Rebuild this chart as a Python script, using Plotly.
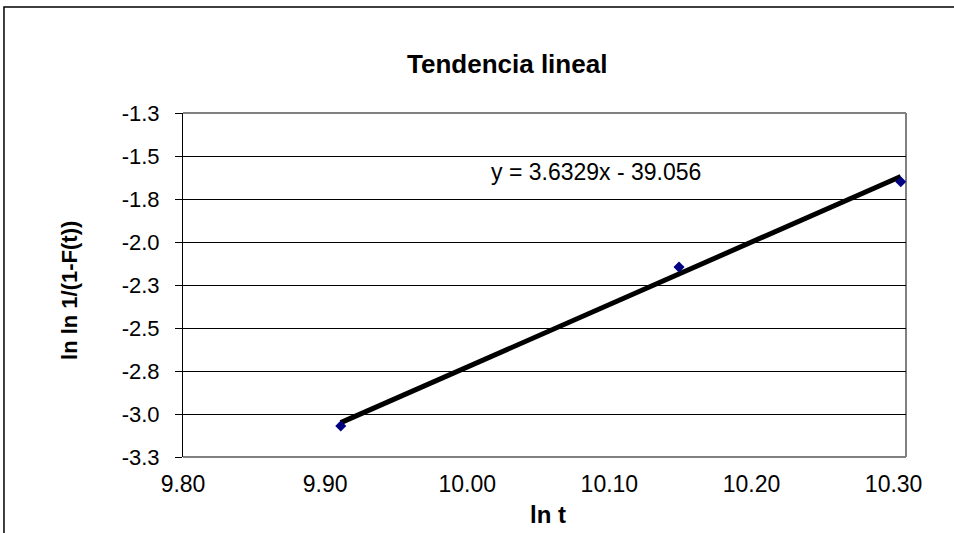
import plotly.graph_objects as go
from decimal import Decimal, ROUND_HALF_UP

# Weibull plot data: ln t against ln ln 1/(1-F(t))
ln_t = [9.911, 10.149, 10.305]
ln_ln_inv = [-3.070, -2.146, -1.650]

# Linear trend coefficients (shown in the label)
slope = 3.6329
intercept = -39.056

# Axis ticks
x_ticks = [9.80, 9.90, 10.00, 10.10, 10.20, 10.30]
x_ticklabels = ["9.80", "9.90", "10.00", "10.10", "10.20", "10.30"]
y_ticks = [-3.25, -3.00, -2.75, -2.50, -2.25, -2.00, -1.75, -1.50, -1.25]
y_ticklabels = [str(Decimal(str(v)).quantize(Decimal("0.1"), rounding=ROUND_HALF_UP)) for v in y_ticks]

FONT = "Liberation Sans, Arial, sans-serif"

x_fit = [min(ln_t), max(ln_t)]
y_fit = [slope * v + intercept for v in x_fit]

fig = go.Figure()
fig.add_trace(go.Scatter(
    x=x_fit, y=y_fit, mode="lines",
    line=dict(color="black", width=5),
    hoverinfo="skip", showlegend=False,
))
fig.add_trace(go.Scatter(
    x=ln_t, y=ln_ln_inv, mode="markers",
    marker=dict(symbol="diamond", size=8.5, color="#000080"),
    showlegend=False,
))

fig.update_layout(
    width=954, height=533,
    margin=dict(l=183, r=48, t=113, b=76),
    paper_bgcolor="white", plot_bgcolor="white",
    font=dict(family=FONT, color="black"),
    xaxis=dict(
        range=[9.80, 10.3087], tickvals=x_ticks, ticktext=x_ticklabels,
        showgrid=False, zeroline=False, ticks="", showline=False,
        tickfont=dict(size=23, family=FONT), ticklabelstandoff=11,
    ),
    yaxis=dict(
        range=[-3.25, -1.25], tickvals=y_ticks, ticktext=y_ticklabels,
        showgrid=True, gridcolor="black", gridwidth=1, zeroline=False,
        ticks="outside", ticklen=7, tickcolor="black", tickwidth=1,
        showline=True, linecolor="black", linewidth=1,
        tickfont=dict(size=22, family=FONT), ticklabelstandoff=11,
    ),
    shapes=[
        # plot frame (top, right, bottom)
        dict(type="line", xref="paper", yref="paper", x0=0, x1=1, y0=1, y1=1,
             line=dict(color="#808080", width=2), layer="below"),
        dict(type="line", xref="paper", yref="paper", x0=1, x1=1, y0=0, y1=1,
             line=dict(color="#808080", width=2), layer="below"),
        dict(type="line", xref="paper", yref="paper", x0=0, x1=1, y0=0, y1=0,
             line=dict(color="#808080", width=2), layer="below"),
        # chart area border
        dict(type="rect", xref="paper", yref="paper",
             x0=-0.2476, x1=1.3, y0=-0.6, y1=1.3081,
             line=dict(color="black", width=1.5), fillcolor="rgba(0,0,0,0)"),
    ],
    annotations=[
        dict(text="<b>Tendencia lineal</b>", xref="paper", yref="paper",
             x=0.448, y=1.1424, showarrow=False, xanchor="center", yanchor="middle",
             font=dict(size=26, family=FONT)),
        dict(text=f"y = {slope:.4f}x - {abs(intercept):.3f}", xref="paper", yref="paper",
             x=0.5712, y=0.8285, showarrow=False, xanchor="center", yanchor="middle",
             font=dict(size=23, family=FONT)),
        dict(text="<b>ln t</b>", xref="paper", yref="paper",
             x=0.5048, y=-0.1686, showarrow=False, xanchor="center", yanchor="middle",
             font=dict(size=24, family=FONT)),
        dict(text="<b>ln ln 1/(1-F(t))</b>", xref="paper", yref="paper",
             x=-0.1563, y=0.4855, showarrow=False, xanchor="center", yanchor="middle",
             textangle=-90, font=dict(size=22, family=FONT)),
    ],
)

fig.write_html("out.html")
